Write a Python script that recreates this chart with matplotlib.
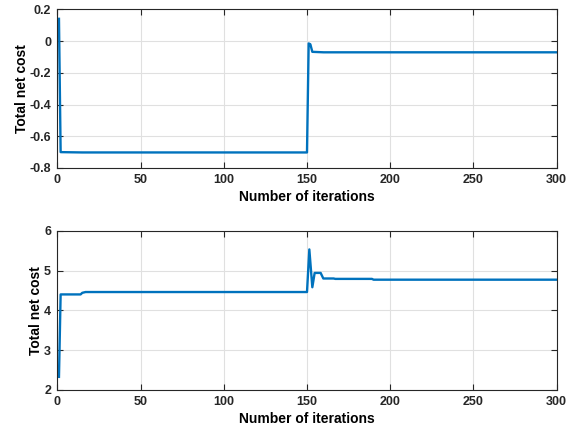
import matplotlib.pyplot as plt

plt.rcParams['font.family'] = ['Liberation Sans', 'DejaVu Sans']
plt.rcParams['font.weight'] = 'bold'

# top panel: iteration, cost
it1 = [1, 2, 15, 150, 151, 152, 153.2, 160, 300]
cost1 = [0.14, -0.70, -0.702, -0.702, -0.015, -0.02, -0.068, -0.071, -0.071]

# bottom panel
it2 = [1, 2, 14, 15, 17, 150, 151.4, 153.2, 154.6, 158.2, 159.8, 166, 167, 189, 190, 300]
cost2 = [2.33, 4.40, 4.40, 4.44, 4.46, 4.46, 5.53, 4.58, 4.94, 4.94, 4.80, 4.80, 4.79, 4.79, 4.77, 4.77]

xticks = [0, 50, 100, 150, 200, 250, 300]

fig = plt.figure(figsize=(5.8, 4.28), dpi=100)
ax1 = fig.add_axes([57.3/580, 1-168/428, 499.4/580, 158.7/428])
ax2 = fig.add_axes([57.3/580, 1-390/428, 499.4/580, 159.3/428])

for ax, x, y, yl, yt in [(ax1, it1, cost1, (-0.8, 0.2), [-0.8, -0.6, -0.4, -0.2, 0, 0.2]),
                         (ax2, it2, cost2, (2, 6), [2, 3, 4, 5, 6])]:
    ax.plot(x, y, color='#0072BD', lw=1.7)
    ax.set_xlim(0, 300)
    ax.set_ylim(*yl)
    ax.set_xticks(xticks)
    ax.set_yticks(yt)
    ax.set_yticklabels([('%g' % v) for v in yt])
    ax.grid(True, color='#e0e0e0', lw=0.8)
    ax.set_axisbelow(True)
    ax.tick_params(direction='in', top=True, right=True, labelsize=9, length=4, width=0.8,
                   colors='#262626', pad=4.5)
    for s in ax.spines.values():
        s.set_color('#262626')
        s.set_linewidth(0.8)
    ax.set_xlabel('Number of iterations', fontsize=10, fontweight='bold', labelpad=3)
    ax.set_ylabel('Total net cost', fontsize=10, fontweight='bold', labelpad=0.5)

fig.savefig('out.png', dpi=100)
